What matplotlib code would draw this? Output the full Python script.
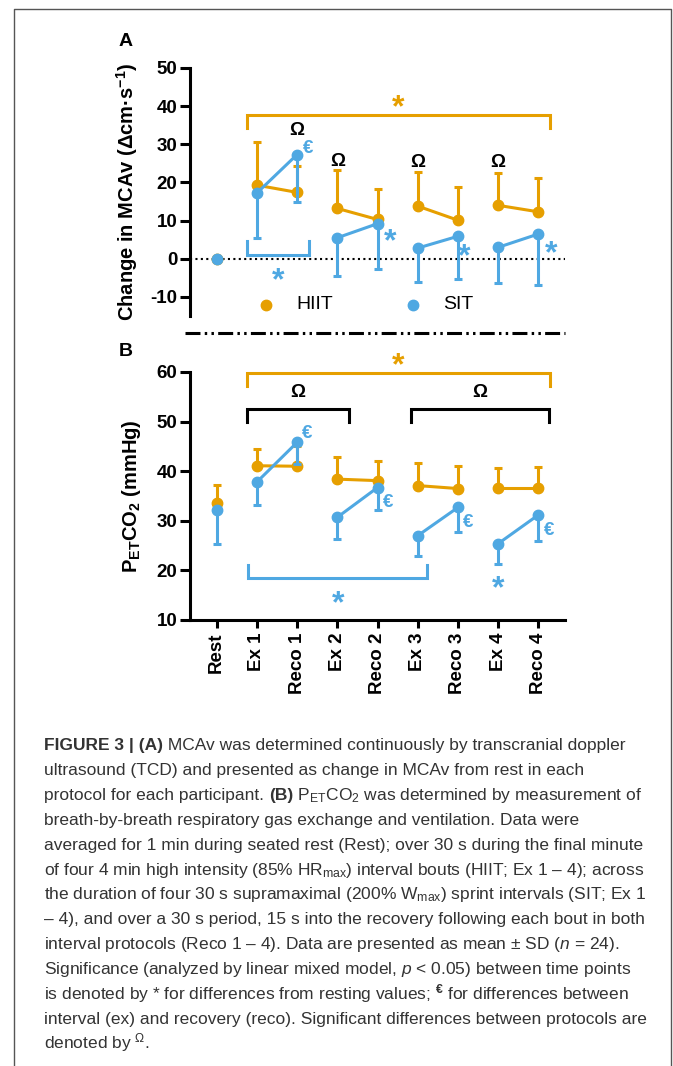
import matplotlib
matplotlib.use("Agg")
import matplotlib.pyplot as plt
import matplotlib.transforms as mtransforms
from matplotlib.lines import Line2D

plt.rcParams['font.family'] = ['Liberation Sans', 'DejaVu Sans']
plt.rcParams['mathtext.fontset'] = 'custom'
plt.rcParams['mathtext.rm'] = 'Liberation Sans'
plt.rcParams['mathtext.it'] = 'Liberation Sans:italic'
plt.rcParams['mathtext.bf'] = 'Liberation Sans:bold'
plt.rcParams['axes.unicode_minus'] = False

# time points
labels = ['Rest', 'Ex 1', 'Reco 1', 'Ex 2', 'Reco 2', 'Ex 3', 'Reco 3', 'Ex 4', 'Reco 4']

# (A) change in MCAv, mean and SD
mcav_hiit = [0, 19.3, 17.4, 13.2, 10.3, 13.8, 10.1, 14.0, 12.3]
mcav_hiit_sd = [0, 11.3, 7.0, 10.0, 7.9, 8.9, 8.7, 8.5, 8.8]
mcav_sit = [0, 17.2, 27.3, 5.5, 9.2, 2.8, 5.9, 3.0, 6.5]
mcav_sit_sd = [0, 11.7, 12.5, 9.9, 11.8, 8.9, 11.1, 9.3, 13.4]

# (B) PETCO2, mean and SD
pet_hiit = [33.6, 41.1, 41.0, 38.4, 38.1, 37.1, 36.5, 36.6, 36.6]
pet_hiit_sd = [3.7, 3.4, 4.0, 4.5, 4.0, 4.6, 4.6, 4.0, 4.3]
pet_sit = [32.2, 37.8, 45.8, 30.7, 36.7, 27.0, 32.7, 25.4, 31.2]
pet_sit_sd = [6.8, 4.7, 4.3, 4.3, 4.5, 4.0, 5.0, 4.1, 5.2]

orange = '#E69F00'
blue = '#4FA8E2'
W, H = 673, 1066


def draw_series(ax, mean, sd, color, up, z):
    x = list(range(len(mean)))
    zeros = [0] * len(sd)
    yerr = [zeros, sd] if up else [sd, zeros]
    ax.errorbar(x, mean, yerr=yerr, fmt='o', color=color, ms=7.5, elinewidth=2.2,
                capsize=3.2, capthick=2.2, zorder=z, clip_on=False)
    for i in (1, 3, 5, 7):
        ax.plot([i, i + 1], [mean[i], mean[i + 1]], color=color, lw=2.2, zorder=z, clip_on=False)


def bracket(ax, x0, x1, y_end, y_bar, color):
    ax.plot([x0, x0, x1, x1], [y_end, y_bar, y_bar, y_end], color=color, lw=2.2,
            clip_on=False, solid_joinstyle='miter')


def mark(ax, x, y, s, color, size, rise):
    # place glyph so its visual centre sits on (x, y)
    tr = mtransforms.offset_copy(ax.transData, fig=ax.figure, y=-rise * size, units='points')
    ax.text(x, y, s, color=color, fontsize=size, fontweight='bold', ha='center',
            va='baseline', transform=tr, clip_on=False)


def style_axis(ax):
    for side in ('top', 'right'):
        ax.spines[side].set_visible(False)
    for side in ('left', 'bottom'):
        ax.spines[side].set_linewidth(2.2)
    ax.tick_params(width=2.2, length=7, labelsize=13.5, pad=2)
    for t in ax.get_yticklabels():
        t.set_fontweight('bold')
    ax.set_xlim(-0.66, 8.66)


fig = plt.figure(figsize=(W / 100, H / 100), dpi=100)

# ---- panel A ----
axA = fig.add_axes([190 / W, 1 - 316 / H, 375 / W, 248 / H])
axA.axhline(0, color='black', lw=1.5, ls=(0, (1, 1.6)), zorder=1)
draw_series(axA, mcav_hiit, mcav_hiit_sd, orange, True, 3)
draw_series(axA, mcav_sit, mcav_sit_sd, blue, False, 4)
axA.set_ylim(-15, 50)
axA.set_yticks([-10, 0, 10, 20, 30, 40, 50])
style_axis(axA)
axA.spines['bottom'].set_visible(False)
axA.set_xticks([])
axA.set_ylabel(r'Change in MCAv (Δcm·s$^{\mathbf{-1}}$)', fontsize=14.5, fontweight='bold', va='center')
axA.yaxis.set_label_coords(-0.168, 0.5)

bracket(axA, 0.75, 8.29, 34.3, 37.6, orange)
bracket(axA, 0.75, 2.3, 4.6, 1.0, blue)
mark(axA, 4.52, 42.1, '*', orange, 23, 0.56)
for x, y in [(2.0, 34.3), (3.0, 26.2), (5.0, 25.7), (7.0, 25.7)]:
    mark(axA, x, y, 'Ω', 'black', 13.5, 0.36)
mark(axA, 2.28, 29.5, '€', blue, 13.5, 0.36)
for x, y in [(1.53, -3.4), (4.31, 6.8), (6.15, 2.9), (8.31, 3.8)]:
    mark(axA, x, y, '*', blue, 23, 0.56)

# legend
axA.plot([1.24], [-12], 'o', color=orange, ms=7.5, clip_on=False)
axA.text(1.99, -12, 'HIIT', fontsize=14, va='center', ha='left')
axA.plot([4.89], [-12], 'o', color=blue, ms=7.5, clip_on=False)
axA.text(5.64, -12, 'SIT', fontsize=14, va='center', ha='left')

# ---- panel B ----
axB = fig.add_axes([190 / W, 1 - 620 / H, 375 / W, 248 / H])
draw_series(axB, pet_hiit, pet_hiit_sd, orange, True, 3)
draw_series(axB, pet_sit, pet_sit_sd, blue, False, 4)
axB.set_ylim(10, 60)
axB.set_yticks([10, 20, 30, 40, 50, 60])
axB.set_xticks(range(len(labels)))
axB.set_xticklabels(labels, rotation=90, fontweight='bold')
style_axis(axB)
axB.tick_params(axis='x', length=6, pad=3)
axB.set_ylabel(r'P$_{\mathbf{ET}}$CO$_{\mathbf{2}}$ (mmHg)', fontsize=14.5, fontweight='bold', va='center')
axB.yaxis.set_label_coords(-0.155, 0.5)

bracket(axB, 0.75, 8.29, 57.1, 59.8, orange)
bracket(axB, 0.75, 3.3, 49.9, 52.6, 'black')
bracket(axB, 4.83, 8.27, 49.9, 52.6, 'black')
bracket(axB, 0.77, 5.24, 21.1, 18.5, blue)
mark(axB, 4.52, 63.2, '*', orange, 23, 0.56)
mark(axB, 2.03, 56.3, 'Ω', 'black', 13.5, 0.36)
mark(axB, 6.55, 56.3, 'Ω', 'black', 13.5, 0.36)
mark(axB, 3.01, 15.1, '*', blue, 23, 0.56)
mark(axB, 7.0, 18.1, '*', blue, 23, 0.56)
for x, y in [(2.25, 48.0), (4.27, 34.2), (6.26, 30.2), (8.27, 28.5)]:
    mark(axB, x, y, '€', blue, 13.5, 0.36)

# panel letters and separator
fig.text(126 / W, 1 - 41 / H, 'A', fontsize=14, fontweight='bold', ha='center', va='center')
fig.text(126 / W, 1 - 352 / H, 'B', fontsize=14, fontweight='bold', ha='center', va='center')
fig.add_artist(Line2D([185 / W, 565 / W], [1 - 333 / H, 1 - 333 / H], color='black', lw=2.2,
                      dashes=(4.9, 1.4, 0.8, 1.4, 0.8, 1.4), transform=fig.transFigure))

# frame around the figure
fig.add_artist(Line2D([13.5 / W, 13.5 / W, 671 / W, 671 / W], [0, 1 - 9 / H, 1 - 9 / H, 0],
                      color='#555555', lw=1.0, transform=fig.transFigure))

# caption, each line is a list of (text, bold) pieces
caption = [
    [("FIGURE 3 | (A)", True), (" MCAv was determined continuously by transcranial doppler", False)],
    [("ultrasound (TCD) and presented as change in MCAv from rest in each", False)],
    [("protocol for each participant. ", False), ("(B)", True),
     (r" P$_{\mathrm{ET}}$CO$_2$ was determined by measurement of", False)],
    [("breath-by-breath respiratory gas exchange and ventilation. Data were", False)],
    [("averaged for 1 min during seated rest (Rest); over 30 s during the final minute", False)],
    [(r"of four 4 min high intensity (85% HR$_{\mathrm{max}}$) interval bouts (HIIT; Ex 1 – 4); across", False)],
    [(r"the duration of four 30 s supramaximal (200% W$_{\mathrm{max}}$) sprint intervals (SIT; Ex 1", False)],
    [("– 4), and over a 30 s period, 15 s into the recovery following each bout in both", False)],
    [(r"interval protocols (Reco 1 – 4). Data are presented as mean ± SD ($n$ = 24).", False)],
    [(r"Significance (analyzed by linear mixed model, $p$ < 0.05) between time points", False)],
    [(r"is denoted by * for differences from resting values; $^{\mathbf{€}}$ for differences between", False)],
    [("interval (ex) and recovery (reco). Significant differences between protocols are", False)],
    [(r"denoted by $^{\mathrm{Ω}}$.", False)],
]
renderer = fig.canvas.get_renderer()
for i, pieces in enumerate(caption):
    x = 44
    y = 1 - (750 + i * 24.9) / H
    for text, bold in pieces:
        t = fig.text(x / W, y, text, fontsize=12.55, color='#333333',
                     fontweight='bold' if bold else 'normal', ha='left', va='baseline')
        x = t.get_window_extent(renderer).x1

fig.savefig('out.png', dpi=100)
